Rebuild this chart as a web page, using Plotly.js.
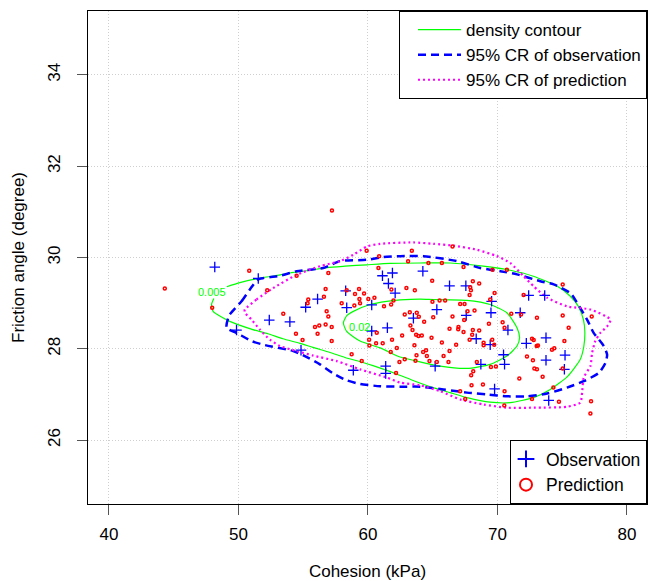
<!DOCTYPE html>
<html><head><meta charset="utf-8">
<script src="https://cdn.plot.ly/plotly-3.0.1.min.js"></script>
<style>html,body{margin:0;padding:0;background:#fff}#chart{width:650px;height:581px}</style>
</head><body><div id="chart"></div>
<script>
// ---- data ----
const xTicks = [40, 50, 60, 70, 80];
const yTicks = [26, 28, 30, 32, 34];

const obsCohesion = [48.17,51.53,49.85,52.38,53.97,55.19,56.11,58.28,58.36,60.29,61.12,61.89,61.58,62.10,61.50,60.29,61.37,61.37,58.87,54.83,
  64.24,66.30,67.56,72.41,73.65,69.55,65.32,69.50,63.51,67.59,71.76,68.36,70.81,69.44,72.23,73.75,70.47,70.55,68.72,65.19,75.22,73.75,75.17,69.78,73.96];
const obsFriction = [29.79,29.54,28.41,28.63,28.59,28.91,29.09,29.27,28.90,28.96,29.60,29.66,29.43,29.22,28.46,28.39,27.62,27.46,27.53,27.97,
  29.70,29.38,29.38,29.17,29.17,29.04,28.86,28.79,28.67,28.73,28.79,28.22,28.41,28.09,28.12,28.24,27.87,27.66,27.66,27.62,27.86,27.75,27.55,27.12,26.87];

const predCohesion = [44.31,57.22,50.83,47.97,52.22,54.49,56.94,56.73,56.60,55.39,55.34,53.46,56.81,56.94,56.73,57.20,56.24,55.91,56.11,54.44,54.95,57.20,
  57.97,58.36,59.00,59.31,59.70,59.34,59.39,58.95,60.03,60.50,60.81,59.90,60.86,61.81,61.97,61.79,61.24,61.86,62.23,61.76,61.14,60.63,60.11,60.09,58.74,60.68,62.43,62.17,59.52,
  66.53,63.39,63.10,64.67,65.71,67.38,69.62,70.73,64.96,68.10,68.59,67.90,67.95,67.85,62.97,63.62,69.78,69.44,64.98,65.53,65.96,67.12,67.46,68.23,67.69,
  62.84,63.23,63.77,63.93,65.04,66.53,67.43,70.40,71.07,71.82,73.05,75.04,77.28,75.50,72.02,75.04,69.34,70.55,63.28,64.34,63.44,63.72,63.90,64.16,64.91,
  62.64,65.71,66.30,66.99,66.97,67.38,68.10,68.59,68.05,67.85,68.93,68.93,69.60,69.75,66.81,66.30,65.84,64.55,64.26,63.75,63.67,62.84,64.49,63.59,64.75,
  65.32,66.22,68.13,67.97,68.41,69.50,69.88,68.88,68.00,67.12,70.55,71.69,72.28,72.74,72.85,73.05,73.49,74.32,74.39,74.21,73.03,73.13,72.80,72.67,75.17,
  75.04,74.75,77.23,77.18,70.53,67.51,72.67];
const predFriction = [29.32,31.03,29.71,28.90,29.28,29.60,29.66,29.31,29.14,29.08,29.00,28.77,28.82,28.71,28.53,28.48,28.51,28.48,28.33,28.33,28.19,28.17,
  29.00,29.28,29.20,29.31,29.21,29.09,29.00,28.95,29.09,29.12,29.77,30.15,30.03,29.30,29.06,28.97,28.93,28.20,28.02,27.93,28.12,28.12,28.07,28.20,27.88,28.35,27.71,27.47,27.73,
  30.24,30.15,29.92,29.88,29.88,29.79,29.73,29.73,29.49,29.48,29.43,29.35,29.28,29.18,29.33,29.28,29.22,29.08,29.03,29.06,29.06,28.98,28.98,28.84,28.82,
  28.75,28.80,28.79,28.70,28.69,28.71,28.63,28.58,28.77,28.75,28.68,28.73,28.71,28.46,29.18,29.41,28.55,28.46,28.51,28.59,28.41,28.31,28.28,28.29,28.24,
  28.29,28.14,28.44,28.48,28.43,28.37,28.41,28.40,28.31,28.20,28.13,28.08,28.20,28.09,28.09,27.95,27.84,27.84,27.93,27.86,27.74,27.77,27.97,28.08,27.73,
  27.71,27.71,27.51,27.42,27.71,27.60,27.61,27.22,27.20,27.07,27.07,27.35,27.83,27.75,27.57,27.55,27.39,27.15,28.01,27.98,28.06,28.07,28.19,28.22,28.17,
  27.57,26.84,26.85,26.58,26.76,26.90,26.90];

// density contour, level 0.005 (open where the label sits)
const dens005X = [49.10,50.11,51.50,52.82,53.98,55.52,56.84,58.23,59.93,61.71,64.03,66.35,68.90,70.99,72.77,74.63,75.63,76.25,76.64,76.75,76.67,76.40,75.40,74.08,72.77,70.99,69.44,67.66,66.35,65.03,63.64,62.10,60.39,59.62,58.23,57.07,55.75,54.75,53.43,52.27,51.11,49.33,48.04,47.92,48.10];
const dens005Y = [29.36,29.45,29.54,29.60,29.66,29.72,29.78,29.81,29.84,29.87,29.88,29.88,29.81,29.72,29.59,29.37,29.15,28.93,28.64,28.36,28.05,27.77,27.39,27.11,26.93,26.82,26.83,26.93,27.04,27.15,27.29,27.46,27.63,27.70,27.81,27.92,28.03,28.12,28.22,28.33,28.42,28.60,28.82,28.97,29.10];
// density contour, level 0.02
const dens02X = [58.10,58.38,58.87,60.16,61.45,62.48,64.03,65.06,67.64,69.44,70.73,71.51,71.71,71.51,70.73,69.44,67.64,65.58,63.77,62.48,60.94,59.39,58.36,58.10];
const dens02Y = [28.57,28.73,28.82,28.97,29.04,29.07,29.09,29.08,29.06,28.97,28.79,28.46,28.24,28.06,27.84,27.66,27.57,27.62,27.73,27.82,28.02,28.17,28.38,28.57];
const contourLevels = ['0.005', '0.02'];
const labelX = [47.98, 59.31];
const labelY = [29.25, 28.47];

// 95% credible region of observation
const crObsX = [49.28,50.24,50.88,51.52,53.20,54.49,56.55,57.84,59.91,61.19,62.48,64.28,66.87,68.67,70.22,71.51,73.31,74.34,75.63,76.15,76.92,77.43,78.21,78.47,78.34,77.82,76.66,75.37,73.83,72.28,70.73,69.19,67.64,65.83,64.03,62.48,60.94,59.39,58.36,57.32,56.29,55.13,54.23,51.91,51.01,49.85,49.08,49.28];
const crObsY = [28.73,29.04,29.30,29.52,29.60,29.70,29.77,29.92,29.95,30.01,30.03,30.03,29.92,29.77,29.70,29.63,29.48,29.41,29.22,29.01,28.64,28.35,28.06,27.87,27.69,27.47,27.29,27.15,27.02,26.96,26.96,27.00,27.04,27.11,27.17,27.17,27.18,27.23,27.31,27.46,27.66,27.84,27.95,28.09,28.17,28.35,28.46,28.73];
// 95% credible region of prediction
const crPredX = [50.49,51.40,52.68,54.49,56.30,57.84,58.87,59.91,60.94,63.51,65.06,66.60,68.41,69.96,70.99,72.02,72.79,73.83,75.37,77.18,78.73,78.47,77.95,77.56,77.31,77.18,76.66,76.54,76.40,75.37,72.79,70.73,68.93,67.12,65.58,64.03,62.48,61.45,59.39,57.59,55.78,54.49,53.20,52.43,51.65,51.01,50.49,50.49];
const crPredY = [28.86,29.08,29.33,29.62,29.81,29.92,30.06,30.24,30.30,30.33,30.30,30.26,30.17,30.03,29.88,29.59,29.37,29.12,28.93,28.86,28.64,28.49,28.35,28.17,27.91,27.62,27.37,27.04,26.82,26.73,26.71,26.71,26.78,26.89,27.07,27.20,27.26,27.37,27.55,27.73,27.85,27.95,28.06,28.20,28.42,28.64,28.79,28.86];

// ---- traces ----
const GREEN = '#00FF00', BLUE = '#0000FF', MAGENTA = '#FF00FF', RED = '#FF0000';
const traces = [
  {x: dens005X, y: dens005Y, type: 'scatter', mode: 'lines', name: 'density contour', legendgroup: 'dens',
   line: {color: GREEN, width: 1.2, shape: 'spline', smoothing: 0.6}, legend: 'legend'},
  {x: dens02X, y: dens02Y, type: 'scatter', mode: 'lines', name: 'density contour', legendgroup: 'dens', showlegend: false,
   line: {color: GREEN, width: 1.2, shape: 'spline', smoothing: 0.6}},
  {x: crObsX, y: crObsY, type: 'scatter', mode: 'lines', name: '95% CR of observation',
   line: {color: BLUE, width: 2.5, dash: '8px,5px', shape: 'spline', smoothing: 0.6}, legend: 'legend'},
  {x: crPredX, y: crPredY, type: 'scatter', mode: 'lines', name: '95% CR of prediction',
   line: {color: MAGENTA, width: 2.2, dash: '2px,3px', shape: 'spline', smoothing: 0.6}, legend: 'legend'},
  {x: obsCohesion, y: obsFriction, type: 'scatter', mode: 'markers', name: 'Observation', legend: 'legend2',
   marker: {symbol: 'cross-thin-open', size: 7.5, color: BLUE, line: {color: BLUE, width: 1.3}}},
  {x: predCohesion, y: predFriction, type: 'scatter', mode: 'markers', name: 'Prediction', legend: 'legend2',
   marker: {symbol: 'circle-open', size: 3, color: RED, line: {color: RED, width: 1.5}}}
];

const FONT = 'Liberation Sans, Arial, Helvetica, sans-serif';
const annotations = contourLevels.map((t, i) => ({
  x: labelX[i], y: labelY[i], xref: 'x', yref: 'y', text: t, showarrow: false,
  font: {family: FONT, size: 11, color: GREEN}
}));

const axisCommon = {
  ticks: 'outside', ticklen: 10, tickwidth: 1, tickcolor: '#555',
  showline: true, mirror: true, linecolor: 'black', linewidth: 1,
  showgrid: true, gridcolor: '#cfcfcf', gridwidth: 1, griddash: '1px,2px',
  zeroline: false, tickfont: {family: FONT, size: 17, color: 'black'}
};

const layout = {
  width: 650, height: 581,
  margin: {l: 88, r: 3, t: 11, b: 77},
  paper_bgcolor: 'white', plot_bgcolor: 'white',
  font: {family: FONT, size: 17, color: 'black'},
  showlegend: true,
  xaxis: Object.assign({}, axisCommon, {
    range: [38.38, 81.55], tickvals: xTicks, ticktext: xTicks.map(String),
    ticklabelstandoff: 5,
    title: {text: 'Cohesion (kPa)', font: {family: FONT, size: 17}, standoff: 21}
  }),
  yaxis: Object.assign({}, axisCommon, {
    range: [24.6, 35.4], tickvals: yTicks, ticktext: yTicks.map(String), tickangle: -90,
    ticklabelstandoff: 10,
    title: {text: 'Friction angle (degree)', font: {family: FONT, size: 17}, standoff: 16}
  }),
  legend: {x: 1, xanchor: 'right', y: 1, yanchor: 'top', bgcolor: 'white',
    bordercolor: 'black', borderwidth: 1, font: {family: FONT, size: 17},
    itemwidth: 43, indentation: 13, traceorder: 'normal'},
  legend2: {x: 1, xanchor: 'right', y: 0, yanchor: 'bottom', bgcolor: 'white',
    bordercolor: 'black', borderwidth: 1, font: {family: FONT, size: 17.5},
    itemsizing: 'constant', indentation: -5, traceorder: 'normal'},
  annotations: annotations
};

Plotly.newPlot('chart', traces, layout, {staticPlot: true, displayModeBar: false});
</script>
</body></html>
